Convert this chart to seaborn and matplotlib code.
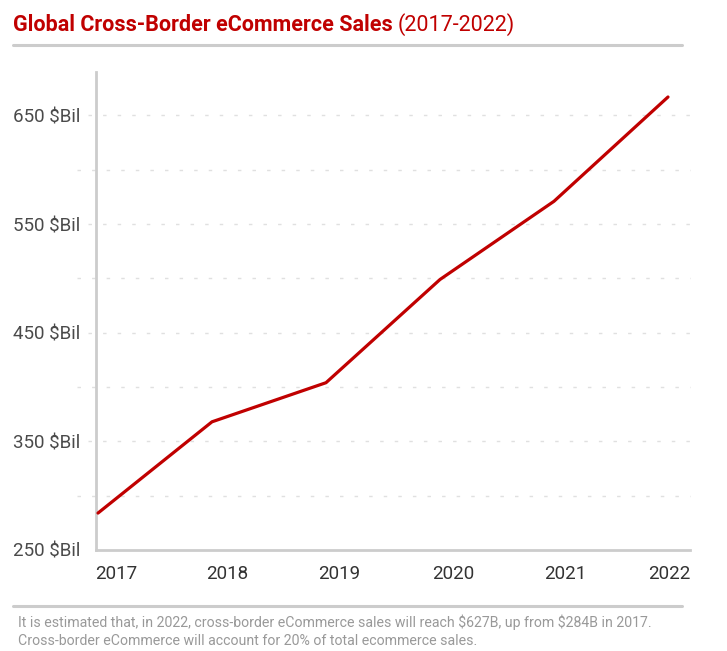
import pandas as pd
import numpy as np
import matplotlib
matplotlib.use("Agg")
import matplotlib.pyplot as plt
import matplotlib.transforms as mtransforms
from matplotlib.lines import Line2D
import seaborn as sns

# data
years = [2017, 2018, 2019, 2020, 2021, 2022]
sales = [284, 368, 404, 499, 571, 667]
tick_labels = ["250 $Bil", "350 $Bil", "450 $Bil", "550 $Bil", "650 $Bil"]

df = pd.DataFrame({"Year": years, "Sales": sales})

sns.set_style("white")
plt.rcParams["font.family"] = ["Roboto", "DejaVu Sans"]
plt.rcParams["text.parse_math"] = False

red = "#c00000"
fig = plt.figure(figsize=(7.27, 6.51), dpi=100)
ax = fig.add_axes([96 / 727, 1 - 550 / 651, 594 / 727, 478 / 651])

sns.lineplot(data=df, x="Year", y="Sales", color=red, linewidth=2.3, ax=ax, zorder=3)

ax.set_xlim(2017 - 2 / 114, 2022 + 22 / 114)
ax.set_ylim(250, 690)

# y ticks: labels every 100, grid every 50
ax.set_yticks([250, 350, 450, 550, 650])
ax.set_yticklabels(tick_labels)
ax.tick_params(axis="y", length=0, pad=11, labelsize=13.5, labelcolor="#4a4a4a")
for v in range(300, 700, 50):
    major = v in (350, 450, 550, 650)
    ax.axhline(v, xmin=-8 / 594 if major else -19 / 594, xmax=1, color="#e0e0e0",
               linewidth=1, linestyle=(0, (2.5, 8)), clip_on=False, zorder=1)

ax.set_xticks(years)
ax.set_xticklabels([str(y) for y in years])
ax.tick_params(axis="x", length=0, pad=11, labelsize=13.5, labelcolor="#333333")
offsets = [18, 15, 13, 13, 11, 1]
for lab, dx in zip(ax.get_xticklabels(), offsets):
    lab.set_transform(lab.get_transform() + mtransforms.ScaledTranslation(dx / 100, 0, fig.dpi_scale_trans))

ax.set_xlabel("")
ax.set_ylabel("")
for s in ["top", "right"]:
    ax.spines[s].set_visible(False)
for s in ["left", "bottom"]:
    ax.spines[s].set_color("#cccccc")
    ax.spines[s].set_linewidth(2)

# title
t1 = fig.text(13 / 727, 1 - 31 / 651, "Global Cross-Border eCommerce Sales", color=red,
              fontsize=15.5, fontweight="bold", ha="left", va="baseline")
fig.canvas.draw()
bb = t1.get_window_extent()
fig.text((bb.x1 + 5) / 727, 1 - 31 / 651, "(2017-2022)", color=red, fontsize=15.5,
         ha="left", va="baseline")

# rules
fig.add_artist(Line2D([13 / 727, 682 / 727], [1 - 45 / 651] * 2, color="#cccccc", linewidth=2.2))
fig.add_artist(Line2D([13 / 727, 682 / 727], [1 - 606 / 651] * 2, color="#cccccc", linewidth=2.2))

# footer
fig.text(18 / 727, 1 - 627 / 651,
         "It is estimated that, in 2022, cross-border eCommerce sales will reach $627B, up from $284B in 2017.",
         color="#999999", fontsize=10.2, ha="left", va="baseline")
fig.text(18 / 727, 1 - 645 / 651,
         "Cross-border eCommerce will account for 20% of total ecommerce sales.",
         color="#999999", fontsize=10.2, ha="left", va="baseline")

fig.savefig("out.png", dpi=100)
